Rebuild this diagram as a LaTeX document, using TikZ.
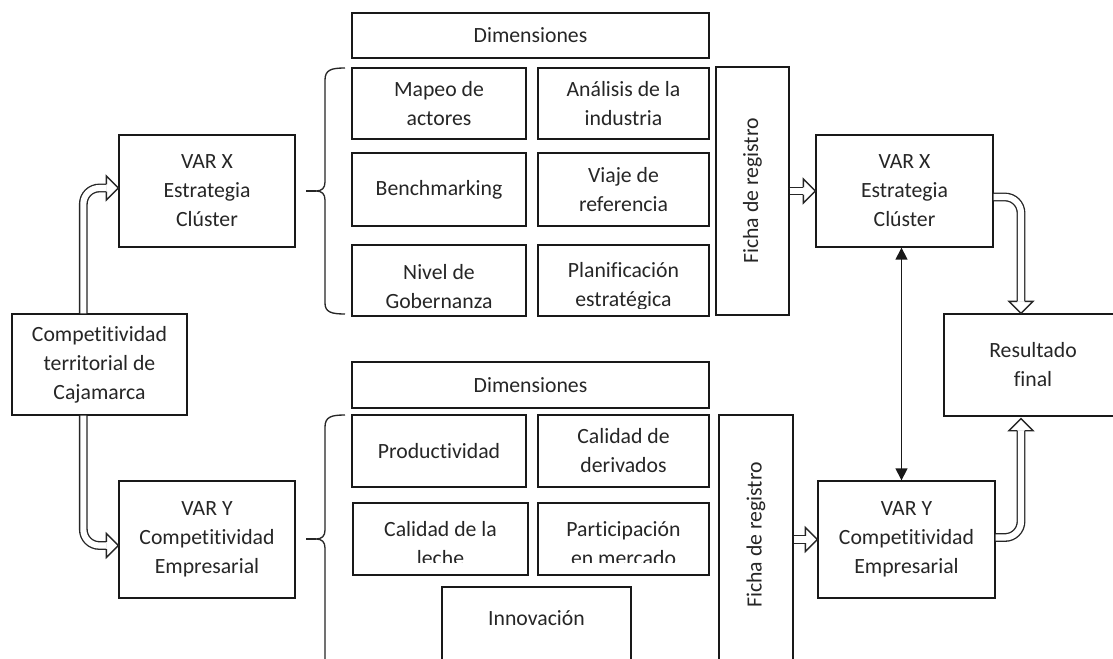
\documentclass[tikz,border=0pt]{standalone}
\usepackage{fontspec}
\setmainfont{Carlito}[Ligatures={NoCommon}]
\usetikzlibrary{arrows.meta,calc}
\begin{document}
\begin{tikzpicture}[x=0.75pt,y=-0.75pt,
  txt/.style={inner sep=0pt, align=center, text=black!85, font=\fontsize{16.3}{21.75}\selectfont},
  bx/.style={txt, draw=black!90, line width=1pt},
  shaft/.style={draw=black!85, line width=1pt, double=white, double distance=4.6pt},
  hhead/.pic={
    \path[fill=white] (0,0) -- (-12,-12) -- (-12,12) -- cycle;
    \draw[black!85, line width=1pt, line join=miter] (-12,-3.6) -- (-12,-12) -- (0,0) -- (-12,12) -- (-12,3.6);
  },
  bracel/.style={draw=black!85, line width=1pt},
]
\clip (0,0) rectangle (1113,659);
\fill[white] (0,0) rectangle (1113,659);

% ---------- upper group ----------
\node[bx, minimum width=357*0.75pt, minimum height=45*0.75pt] (dimX) at (530.5,35.5) {Dimensiones};
\node[bx, minimum width=174*0.75pt, minimum height=71*0.75pt] (mapeo) at (439,103.5) {Mapeo de\\actores};
\node[bx, minimum width=171*0.75pt, minimum height=71*0.75pt] (anal) at (623.5,103.5) {Análisis de la\\industria};
\node[bx, minimum width=174*0.75pt, minimum height=73*0.75pt] (bench) at (439,189.5) {Benchmarking};
\node[bx, minimum width=171*0.75pt, minimum height=73*0.75pt] (viaje) at (623.5,189.5) {Viaje de\\referencia};
\node[bx, minimum width=174*0.75pt, minimum height=71*0.75pt] (nivel) at (439,280.5) {};
\node[bx, minimum width=171*0.75pt, minimum height=71*0.75pt] (plan) at (623.5,280.5) {};
\begin{scope}
  \clip (350,245) rectangle (711,308);
  \node[txt] at ($(nivel.center)+(0,6)$) {Nivel de\\Gobernanza};
  \node[txt] at ($(plan.center)+(0,6)$) {Planificación\\estratégica};
\end{scope}
\node[bx, minimum width=73*0.75pt, minimum height=248*0.75pt] (fichaX) at (752.5,191) {};
\node[txt, rotate=90] at (fichaX.center) {Ficha de registro};

% ---------- lower group ----------
\node[bx, minimum width=357*0.75pt, minimum height=46*0.75pt] (dimY) at (530.5,385) {Dimensiones};
\node[bx, minimum width=174*0.75pt, minimum height=72*0.75pt] (prod) at (439,451) {Productividad};
\node[bx, minimum width=171*0.75pt, minimum height=72*0.75pt] (caldev) at (623.5,451) {Calidad de\\derivados};
\node[bx, minimum width=175*0.75pt, minimum height=72*0.75pt] (leche) at (440.5,539) {};
\node[bx, minimum width=171*0.75pt, minimum height=72*0.75pt] (part) at (623.5,539) {};
\begin{scope}
  \clip (350,503) rectangle (711,562);
  \node[txt] at ($(leche.center)+(0,5)$) {Calidad de la\\leche};
  \node[txt] at ($(part.center)+(0,5)$) {Participación\\en mercado};
\end{scope}
\node[bx, minimum width=189*0.75pt, minimum height=80*0.75pt] (innov) at (536.5,627) {};
\node[txt] at ($(innov.north)+(0,32)$) {Innovación};
\node[bx, minimum width=74*0.75pt, minimum height=250*0.75pt] (fichaY) at (756,540) {};
\node[txt, rotate=90] at (756,535) {Ficha de registro};

% ---------- left ----------
\node[bx, minimum width=176*0.75pt, minimum height=112*0.75pt] (varxL) at (207,191) {VAR X\\Estrategia\\Clúster};
\node[bx, minimum width=175*0.75pt, minimum height=101*0.75pt] (comp) at (99.5,364.5) {Competitividad\\territorial de\\Cajamarca};
\node[bx, minimum width=176*0.75pt, minimum height=117*0.75pt] (varyL) at (207,539.5) {VAR Y\\Competitividad\\Empresarial};

% ---------- right ----------
\node[bx, minimum width=177*0.75pt, minimum height=112*0.75pt] (varxR) at (904.5,191) {VAR X\\Estrategia\\Clúster};
\node[bx, minimum width=177*0.75pt, minimum height=117*0.75pt] (varyR) at (906.5,539.5) {VAR Y\\Competitividad\\Empresarial};
\node[bx, minimum width=178*0.75pt, minimum height=102*0.75pt] (res) at (1033,365) {Resultado\\final};

% ---------- braces ----------
\draw[bracel] (345,68) .. controls (331,68) and (325,70) .. (325,80) -- (325,182)
  .. controls (325,188) and (322,191) .. (316,191)
  .. controls (322,191) and (325,194) .. (325,200) -- (325,303)
  .. controls (325,312) and (331,314) .. (345,314);
\draw[bracel] (306,191) -- (316,191);
\draw[bracel] (345,415) .. controls (331,415) and (325,417) .. (325,427) -- (325,530)
  .. controls (325,536) and (322,539) .. (316,539)
  .. controls (322,539) and (325,542) .. (325,548) -- (325,670);
\draw[bracel] (306,539) -- (316,539);

% ---------- hollow arrows ----------
\draw[shaft, rounded corners=12] ($(comp.north west)+(72,0)$) |- ($(varxL.west)+(-12,-3)$);
\pic at ($(varxL.west)+(0,-3)$) {hhead};
\draw[shaft, rounded corners=12] ($(comp.south west)+(72,0)$) |- ($(varyL.west)+(-12,6)$);
\pic at ($(varyL.west)+(0,6)$) {hhead};

\draw[shaft] (fichaX.east) -- ($(varxR.west)+(-12,0)$);
\pic at (varxR.west) {hhead};
\draw[shaft] (fichaY.east |- varyR.west) -- ($(varyR.west)+(-12,0)$);
\pic at (varyR.west) {hhead};

\draw[shaft, rounded corners=12] ($(varxR.east)+(0,6)$) -| ($(res.north)+(-12,-12)$);
\pic[rotate=-90] at ($(res.north)+(-12,0)$) {hhead};
\draw[shaft, rounded corners=12] ($(varyR.east)+(0,-2)$) -| ($(res.south)+(-12,14)$);
\pic[rotate=90] at ($(res.south)+(-12,2)$) {hhead};

% ---------- double arrow ----------
\draw[black!90, line width=1pt, {Triangle[length=9pt,width=9pt]}-{Triangle[length=9pt,width=9pt]}]
  ($(varxR.south)+(-3,0)$) -- ($(varxR.south |- varyR.north)+(-3,0)$);
\end{tikzpicture}
\end{document}
